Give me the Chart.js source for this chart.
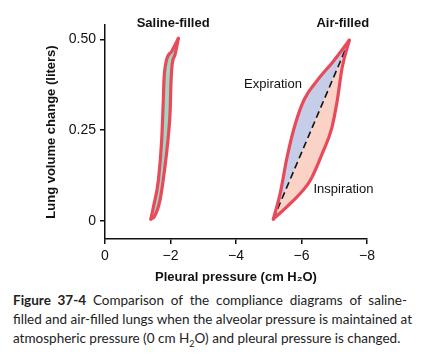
<!DOCTYPE html>
<html>
<head>
<meta charset="utf-8">
<script src="https://cdn.jsdelivr.net/npm/chart.js@4"></script>
<style>
  body { margin: 0; background: #fff; }
  #wrap { position: relative; width: 423px; height: 290px; }
  .cap { position: absolute; left: 13px; top: 291px; width: 394px; font-family: Lato, "Open Sans", sans-serif; font-size: 13.5px; line-height: 19px; color: #222; }
  .cap div { text-align: justify; text-align-last: justify; white-space: nowrap; }
  .cap div.last { text-align-last: left; }
  .cap sub { font-size: 9px; line-height: 0; }
</style>
</head>
<body>
<div id="wrap"><canvas id="chart" width="423" height="290"></canvas></div>
<div class="cap">
  <div><b>Figure 37-4</b> Comparison of the compliance diagrams of saline-</div>
  <div>filled and air-filled lungs when the alveolar pressure is maintained at</div>
  <div class="last">atmospheric pressure (0 cm H<sub>2</sub>O) and pleural pressure is changed.</div>
</div>
<script>
// Pressure-volume loops (x: cm H2O, y: liters)
const salineLeftX = [-1.40, -1.48, -1.63, -1.73, -1.78, -1.80, -1.86, -2.04, -2.24];
const salineLeftY = [0.005, 0.039, 0.112, 0.222, 0.331, 0.386, 0.436, 0.468, 0.503];
const salineRightX = [-1.40, -1.51, -1.68, -1.83, -1.94, -1.99, -2.01, -2.04, -2.14, -2.24];
const salineRightY = [0.005, 0.012, 0.057, 0.149, 0.240, 0.304, 0.368, 0.422, 0.459, 0.503];

const airExpX = [-5.14, -5.35, -5.56, -5.81, -6.09, -6.47, -6.98, -7.46];
const airExpY = [0.005, 0.076, 0.176, 0.267, 0.336, 0.386, 0.441, 0.498];
const airInspX = [-5.14, -5.66, -6.27, -6.63, -6.93, -7.09, -7.24, -7.46];
const airInspY = [0.005, 0.048, 0.112, 0.185, 0.258, 0.331, 0.422, 0.498];
const airDiagX = [-5.14, -7.46];
const airDiagY = [0.005, 0.498];

const xTicks = [0, -2, -4, -6, -8];
const yTicks = [0, 0.25, 0.5];

const RED = '#e84a5a';
const FONT = '"Liberation Sans", Arial, sans-serif';

function pts(xs, ys) {
    return xs.map((x, i) => ({ x: x, y: ys[i] }));
}

// Text labels placed in data coordinates
const labels = [
    { text: 'Saline-filled', x: -2.08, y: 0.544, bold: true },
    { text: 'Air-filled', x: -7.26, y: 0.544, bold: true },
    { text: 'Expiration', x: -5.13, y: 0.377, bold: false },
    { text: 'Inspiration', x: -7.28, y: 0.087, bold: false }
];

const labelPlugin = {
    id: 'labels',
    afterDraw(chart) {
        const { ctx, scales } = chart;
        ctx.save();
        ctx.fillStyle = '#111';
        ctx.textAlign = 'center';
        ctx.textBaseline = 'middle';
        labels.forEach(l => {
            ctx.font = (l.bold ? 'bold ' : '') + '13px ' + FONT;
            ctx.fillText(l.text, scales.x.getPixelForValue(l.x), scales.y.getPixelForValue(l.y));
        });
        ctx.restore();
    }
};

const redLine = {
    borderColor: RED,
    borderWidth: 3.2,
    pointRadius: 0,
    cubicInterpolationMode: 'monotone',
    borderCapStyle: 'round',
    borderJoinStyle: 'round'
};

new Chart(document.getElementById('chart'), {
    type: 'line',
    data: {
        datasets: [
            Object.assign({ data: pts(airExpX, airExpY), fill: { target: 2 }, backgroundColor: '#c5cde8' }, redLine),
            Object.assign({ data: pts(airInspX, airInspY), fill: { target: 2 }, backgroundColor: '#fad3c6' }, redLine),
            {
                data: pts(airDiagX, airDiagY),
                borderColor: '#111',
                borderWidth: 1.6,
                borderDash: [7, 4],
                pointRadius: 0,
                fill: false
            },
            Object.assign({ data: pts(salineLeftX, salineLeftY), fill: { target: 4 }, backgroundColor: '#9fd6c4' }, redLine),
            Object.assign({ data: pts(salineRightX, salineRightY), fill: false }, redLine)
        ]
    },
    options: {
        responsive: false,
        animation: false,
        layout: { padding: { left: 44, top: 25, right: 56, bottom: 5 } },
        plugins: {
            legend: { display: false },
            tooltip: { enabled: false },
            filler: { drawTime: 'beforeDatasetsDraw' }
        },
        scales: {
            x: {
                type: 'linear',
                min: -8,
                max: 0,
                reverse: true,
                afterBuildTicks: s => { s.ticks = xTicks.map(v => ({ value: v })); },
                afterFit: s => { s.height = 46; },
                ticks: {
                    color: '#111',
                    padding: 4,
                    font: { size: 14, family: FONT },
                    callback: v => v === 0 ? '0' : '\u2212' + Math.abs(v)
                },
                grid: { drawOnChartArea: false, color: '#111', lineWidth: 1.5, tickLength: 5 },
                border: { color: '#111', width: 1.5 },
                title: {
                    display: true,
                    text: 'Pleural pressure (cm H\u2082O)',
                    color: '#111',
                    padding: 0,
                    font: { size: 13, weight: 'bold', family: FONT }
                }
            },
            y: {
                min: -0.05,
                max: 0.54,
                afterBuildTicks: s => { s.ticks = yTicks.map(v => ({ value: v })); },
                afterFit: s => { s.width = 61; },
                ticks: {
                    color: '#111',
                    padding: 4,
                    font: { size: 14, family: FONT },
                    callback: v => v === 0 ? '0' : v.toFixed(2)
                },
                grid: { drawOnChartArea: false, color: '#111', lineWidth: 1.5, tickLength: 5 },
                border: { color: '#111', width: 1.5 },
                title: {
                    display: true,
                    text: 'Lung volume change (liters)',
                    color: '#111',
                    padding: 0,
                    font: { size: 13, weight: 'bold', family: FONT }
                }
            }
        }
    },
    plugins: [labelPlugin]
});
</script>
</body>
</html>
